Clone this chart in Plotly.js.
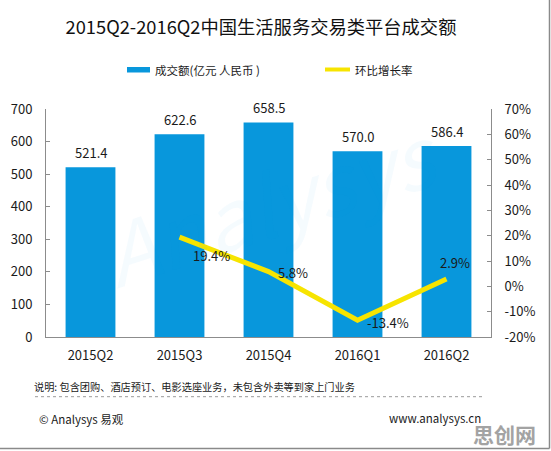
<!DOCTYPE html>
<html>
<head>
<meta charset="utf-8">
<script src="https://cdn.plot.ly/plotly-3.0.1.min.js"></script>
<style>html,body{margin:0;padding:0;background:#fff;}#chart{width:551px;height:451px;}</style>
</head>
<body>
<div id="chart"></div>
<script>
// ---- data ----
const categories = ['2015Q2', '2015Q3', '2015Q4', '2016Q1', '2016Q2'];
const amounts = [521.4, 622.6, 658.5, 570.0, 586.4];
const growthCategories = ['2015Q3', '2015Q4', '2016Q1', '2016Q2'];
const growth = [19.4, 5.8, -13.4, 2.9];
const amountTickVals = [0, 100, 200, 300, 400, 500, 600, 700];
const growthTickVals = [-20, -10, 0, 10, 20, 30, 40, 50, 60, 70];
const growthTickText = ['-20%', '-10%', '0%', '10%', '20%', '30%', '40%', '50%', '60%', '70%'];
const seriesNames = ['成交额(亿元 人民币 )', '环比增长率'];
const titleText = '2015Q2-2016Q2中国生活服务交易类平台成交额';
const noteText = '说明: 包含团购、酒店预订、电影选座业务，未包含外卖等到家上门业务';
const sourceText = '© Analysys 易观';
const siteText = 'www.analysys.cn';

// ---- style ----
const FONT = '"Noto Sans CJK SC", "Noto Sans", sans-serif';
const BLUE = '#0897dc';
const YELLOW = '#f7e400';
const AXIS = '#8c8c8c';
const TXT = '#1a1a1a';
const growthShift = [[32, -18], [24, -1], [30, -2], [8, 16]];

// pixel -> paper helpers (plot area: x 46..491, y 109..337)
const L = 46, R = 491, T = 109, B = 337;
const px = v => (v - L) / (R - L);
const py = v => (B - v) / (B - T);

const traces = [
  {
    type: 'bar', x: categories, y: amounts, name: seriesNames[0],
    marker: {color: BLUE}, hoverinfo: 'none'
  },
  {
    type: 'scatter', mode: 'lines', x: growthCategories, y: growth, yaxis: 'y2',
    name: seriesNames[1], line: {color: YELLOW, width: 5}, hoverinfo: 'none'
  }
];

const annotations = [];
amounts.forEach((v, i) => annotations.push({
  x: categories[i], y: v, xref: 'x', yref: 'y', text: v.toFixed(1),
  showarrow: false, yshift: 15, font: {family: FONT, size: 13, color: TXT}
}));
growth.forEach((v, i) => annotations.push({
  x: growthCategories[i], y: v, xref: 'x', yref: 'y2', text: v.toFixed(1) + '%',
  showarrow: false, xshift: growthShift[i][0], yshift: growthShift[i][1],
  font: {family: FONT, size: 13, color: TXT}
}));
// legend texts
annotations.push({xref: 'paper', yref: 'paper', x: px(153), y: py(70), xanchor: 'left', yanchor: 'middle',
  text: seriesNames[0], showarrow: false, font: {family: FONT, size: 11.5, color: TXT}});
annotations.push({xref: 'paper', yref: 'paper', x: px(353), y: py(70), xanchor: 'left', yanchor: 'middle',
  text: seriesNames[1], showarrow: false, font: {family: FONT, size: 11.5, color: TXT}});
// footer texts
annotations.push({xref: 'paper', yref: 'paper', x: px(32), y: py(386), xanchor: 'left', yanchor: 'middle',
  text: noteText, showarrow: false, font: {family: FONT, size: 10.2, color: TXT}});
annotations.push({xref: 'paper', yref: 'paper', x: px(37), y: py(419), xanchor: 'left', yanchor: 'middle',
  text: sourceText, showarrow: false, font: {family: FONT, size: 11.5, color: TXT}});
annotations.push({xref: 'paper', yref: 'paper', x: px(483), y: py(418), xanchor: 'right', yanchor: 'middle',
  text: siteText, showarrow: false, font: {family: FONT, size: 11.5, color: TXT}});
// watermarks
annotations.push({xref: 'paper', yref: 'paper', x: px(270), y: py(200), xanchor: 'center', yanchor: 'middle',
  text: '<i>Analysys</i>', showarrow: false, textangle: -18,
  font: {family: FONT, size: 84, color: 'rgba(0,150,220,0.04)'}});
annotations.push({xref: 'paper', yref: 'paper', x: px(538), y: py(434), xanchor: 'right', yanchor: 'middle',
  text: '<b>思创网</b>', showarrow: false, font: {family: FONT, size: 21, color: '#a3a3a3'}});

const shapes = [
  {type: 'rect', xref: 'paper', yref: 'paper', x0: px(127), x1: px(150), y0: py(72.5), y1: py(67),
   fillcolor: BLUE, line: {width: 0}},
  {type: 'line', xref: 'paper', yref: 'paper', x0: px(325), x1: px(350), y0: py(69.5), y1: py(69.5),
   line: {color: YELLOW, width: 4}},
  {type: 'line', xref: 'paper', yref: 'paper', x0: px(35), x1: px(483), y0: py(396.7), y1: py(396.7),
   line: {color: '#9a9a9a', width: 1, dash: 'dot'}},
  {type: 'line', xref: 'paper', yref: 'paper', x0: px(549.5), x1: px(549.5), y0: py(0), y1: py(448.5),
   line: {color: '#8a8a8a', width: 1.5}},
  {type: 'line', xref: 'paper', yref: 'paper', x0: px(0), x1: px(549.5), y0: py(448.5), y1: py(448.5),
   line: {color: '#8a8a8a', width: 1.5}}
];

const layout = {
  width: 551, height: 451,
  margin: {l: L, r: 551 - R, t: T, b: 451 - B, pad: 0},
  paper_bgcolor: '#fff', plot_bgcolor: 'rgba(0,0,0,0)',
  showlegend: false,
  bargap: 0.44,
  font: {family: FONT, size: 13, color: TXT},
  title: {text: titleText, x: 261 / 551, xanchor: 'center', y: 1 - 28 / 451, yanchor: 'middle',
          xref: 'container', yref: 'container', font: {family: FONT, size: 18.3, color: '#111'}},
  xaxis: {type: 'category', range: [-0.5, 4.5], showline: true, linecolor: AXIS, linewidth: 1,
          ticks: '', showgrid: false, zeroline: false, fixedrange: true,
          tickfont: {family: FONT, size: 13, color: TXT}, ticklabelstandoff: 6},
  yaxis: {range: [0, 700], tickvals: amountTickVals, showline: true, linecolor: AXIS, linewidth: 1,
          ticks: 'inside', ticklen: 4, tickcolor: AXIS, showgrid: false, zeroline: false,
          tickfont: {family: FONT, size: 13, color: TXT}, ticklabelstandoff: 10},
  yaxis2: {range: [-20, 70], tickmode: 'array', tickvals: growthTickVals, ticktext: growthTickText,
           overlaying: 'y', side: 'right',
           showline: true, linecolor: AXIS, linewidth: 1, ticks: 'inside', ticklen: 4, tickcolor: AXIS,
           showgrid: false, zeroline: false, tickfont: {family: FONT, size: 13, color: TXT},
           ticklabelstandoff: 10},
  annotations: annotations,
  shapes: shapes
};

Plotly.newPlot('chart', traces, layout, {displayModeBar: false, staticPlot: true});
</script>
</body>
</html>
